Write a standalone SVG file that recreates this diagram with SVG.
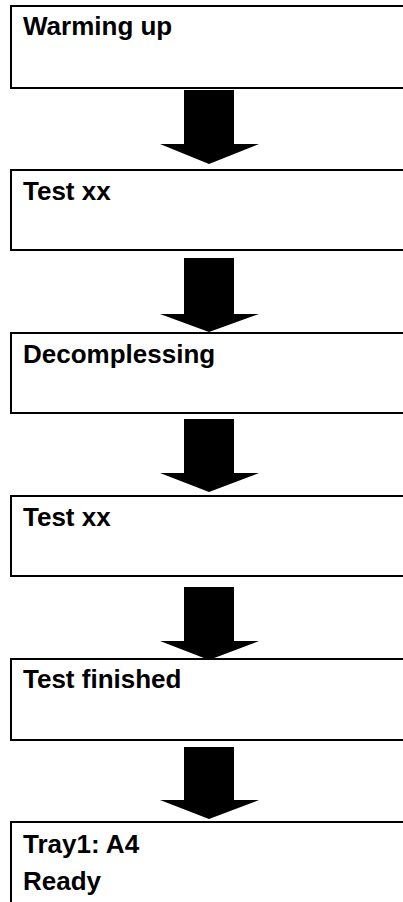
<svg xmlns="http://www.w3.org/2000/svg" width="403" height="902" viewBox="0 0 403 902">
<style>
.box{fill:#fff;stroke:#000;stroke-width:2}
.lbl{font-family:"Liberation Sans",Arial,sans-serif;font-weight:bold;font-size:26px;fill:#000}
.arr{fill:#000;stroke:none}
</style>
<rect width="403" height="902" fill="#fff"/>
<g id="connectors">
<polygon class="arr" points="184,90 234,90 234,144 259,144 209,164 160,144 184,144"/>
<polygon class="arr" points="184,258 234,258 234,314 259,314 209,332 160,314 184,314"/>
<polygon class="arr" points="184,419 234,419 234,473 259,473 209,492 160,473 184,473"/>
<polygon class="arr" points="184,587 234,587 234,641 259,641 209,660 160,641 184,641"/>
<polygon class="arr" points="184,747 234,747 234,800 259,800 209,819 160,800 184,800"/>
</g>
<g id="node1"><rect class="box" x="11" y="6" width="400" height="82"/><text class="lbl" x="23" y="35">Warming up</text></g>
<g id="node2"><rect class="box" x="11" y="170" width="400" height="80"/><text class="lbl" x="23" y="200">Test xx</text></g>
<g id="node3"><rect class="box" x="11" y="333" width="400" height="80"/><text class="lbl" x="23" y="363">Decomplessing</text></g>
<g id="node4"><rect class="box" x="11" y="496" width="400" height="80"/><text class="lbl" x="23" y="526">Test xx</text></g>
<g id="node5"><rect class="box" x="11" y="659" width="400" height="81"/><text class="lbl" x="23" y="688">Test finished</text></g>
<g id="node6"><rect class="box" x="11" y="822" width="400" height="100"/><text class="lbl" x="23" y="853">Tray1: A4</text><text class="lbl" x="23" y="890">Ready</text></g>
</svg>
